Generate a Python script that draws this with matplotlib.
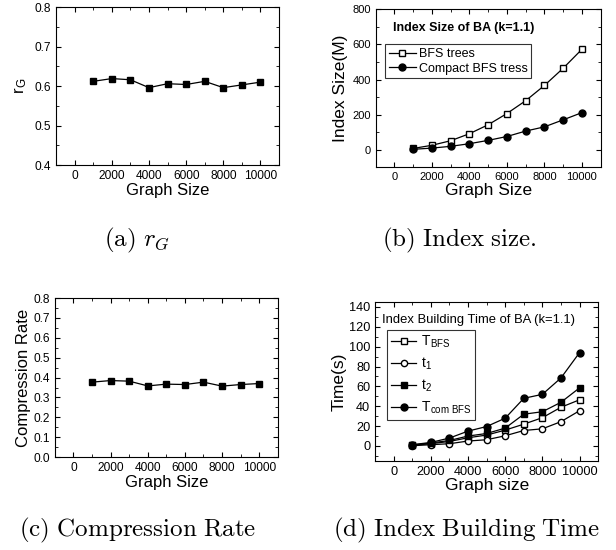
import matplotlib
matplotlib.use("Agg")
import matplotlib.pyplot as plt
from matplotlib.ticker import MultipleLocator

plt.rcParams['font.family'] = ['Liberation Sans', 'DejaVu Sans']
plt.rcParams['mathtext.fontset'] = 'cm'
plt.rcParams['xtick.direction'] = 'in'
plt.rcParams['ytick.direction'] = 'in'
plt.rcParams['xtick.top'] = True
plt.rcParams['ytick.right'] = True

sizes = [1000, 2000, 3000, 4000, 5000, 6000, 7000, 8000, 9000, 10000]

# (a) r_G
r_g = [0.612, 0.619, 0.616, 0.596, 0.606, 0.604, 0.612, 0.596, 0.603, 0.610]

# (b) index size (M)
bfs_trees = [7, 25, 51, 91, 142, 206, 279, 366, 464, 572]
compact_bfs = [2, 9, 19, 34, 53, 75, 106, 130, 170, 211]

# (c) compression rate
comp_rate = [0.377, 0.385, 0.382, 0.358, 0.367, 0.365, 0.377, 0.357, 0.365, 0.370]

# (d) index building time (s)
t_bfs = [0.7, 2.3, 4.6, 8.3, 11, 16, 22, 28.5, 39, 46.5]
t1 = [0.3, 1.3, 2.3, 5, 6.3, 10.3, 15.6, 17.3, 24.5, 35.5]
t2 = [1, 3, 5.6, 10, 12.6, 18, 32, 34.5, 44, 58.5]
t_com = [1.3, 3.6, 8, 15, 19.6, 28, 48, 52, 68.5, 94]

fig = plt.figure(figsize=(6.16, 5.50), dpi=100)
ax_a = fig.add_axes([0.091, 0.700, 0.362, 0.287])
ax_b = fig.add_axes([0.610, 0.696, 0.365, 0.287])
ax_c = fig.add_axes([0.089, 0.169, 0.362, 0.289])
ax_d = fig.add_axes([0.609, 0.162, 0.362, 0.289])

tick_sizes = {ax_a: 8.6, ax_b: 8, ax_c: 8.6, ax_d: 9.2}
for ax in [ax_a, ax_b, ax_c, ax_d]:
    ax.set_xlim(-1000, 11000)
    ax.xaxis.set_major_locator(MultipleLocator(2000))
    ax.xaxis.set_minor_locator(MultipleLocator(1000))
    ax.tick_params(which='major', length=3.5, labelsize=tick_sizes[ax])
    ax.tick_params(which='minor', length=2)

# (a)
ax_a.plot(sizes, r_g, 'k-s', ms=5, lw=0.9)
ax_a.set_ylim(0.4, 0.8)
ax_a.yaxis.set_major_locator(MultipleLocator(0.1))
ax_a.yaxis.set_minor_locator(MultipleLocator(0.05))
ax_a.set_xlabel('Graph Size', fontsize=12, labelpad=1)
ax_a.set_ylabel(r'r$_\mathregular{G}$', fontsize=12)

# (b)
ax_b.plot(sizes, bfs_trees, 'k-s', ms=4.5, mfc='white', lw=0.9, label='BFS trees')
ax_b.plot(sizes, compact_bfs, 'k-o', ms=5, lw=0.9, label='Compact BFS tress')
ax_b.set_ylim(-100, 800)
ax_b.yaxis.set_major_locator(MultipleLocator(200))
ax_b.yaxis.set_minor_locator(MultipleLocator(100))
ax_b.set_xlabel('Graph Size', fontsize=12.5, labelpad=1)
ax_b.set_ylabel('Index Size(M)', fontsize=12.5, labelpad=3)
ax_b.text(0.075, 0.865, 'Index Size of BA (k=1.1)', transform=ax_b.transAxes,
          fontsize=9, fontweight='bold')
leg = ax_b.legend(loc='upper left', bbox_to_anchor=(0.04, 0.778), fontsize=9,
                  fancybox=False, edgecolor='black', handlelength=2.2,
                  handletextpad=0.2, borderpad=0.3, labelspacing=0.2,
                  borderaxespad=0)
leg.get_frame().set_linewidth(0.8)

# (c)
ax_c.plot(sizes, comp_rate, 'k-s', ms=5, lw=0.9)
ax_c.set_ylim(0.0, 0.8)
ax_c.yaxis.set_major_locator(MultipleLocator(0.1))
ax_c.yaxis.set_minor_locator(MultipleLocator(0.05))
ax_c.set_xlabel('Graph Size', fontsize=12, labelpad=1)
ax_c.set_ylabel('Compression Rate', fontsize=12, labelpad=2)

# (d)
ax_d.plot(sizes, t_bfs, 'k-s', ms=4, mfc='white', lw=0.9, label=r'T$_\mathregular{BFS}$')
ax_d.plot(sizes, t1, 'k-o', ms=4.5, mfc='white', lw=0.9, label=r't$_\mathregular{1}$')
ax_d.plot(sizes, t2, 'k-s', ms=4.5, lw=0.9, label=r't$_\mathregular{2}$')
ax_d.plot(sizes, t_com, 'k-o', ms=5, lw=0.9, label=r'T$_\mathregular{com\ BFS}$')
ax_d.set_ylim(-15, 145)
ax_d.yaxis.set_major_locator(MultipleLocator(20))
ax_d.yaxis.set_minor_locator(MultipleLocator(10))
ax_d.set_xlabel('Graph size', fontsize=12.5, labelpad=0)
ax_d.set_ylabel('Time(s)', fontsize=12.5, labelpad=2)
ax_d.text(0.03, 0.87, 'Index Building Time of BA (k=1.1)', transform=ax_d.transAxes,
          fontsize=9.4)
leg = ax_d.legend(loc='upper left', bbox_to_anchor=(0.054, 0.824), fontsize=10,
                  fancybox=False, edgecolor='black', handlelength=1.8,
                  handletextpad=0.3, borderpad=0.3, labelspacing=0.4,
                  borderaxespad=0)
leg.get_frame().set_linewidth(0.8)

# captions
fig.text(0.222, 0.551, r'$\mathrm{(a)}\ r_G$', fontsize=18, ha='center', va='baseline')
fig.text(0.745, 0.551, r'$\mathrm{(b)\ Index\ size.}$', fontsize=18, ha='center', va='baseline')
fig.text(0.224, 0.024, r'$\mathrm{(c)\ Compression\ Rate}$', fontsize=18, ha='center', va='baseline')
fig.text(0.757, 0.024, r'$\mathrm{(d)\ Index\ Building\ Time}$', fontsize=18, ha='center', va='baseline')

fig.savefig('out.png', dpi=100)
